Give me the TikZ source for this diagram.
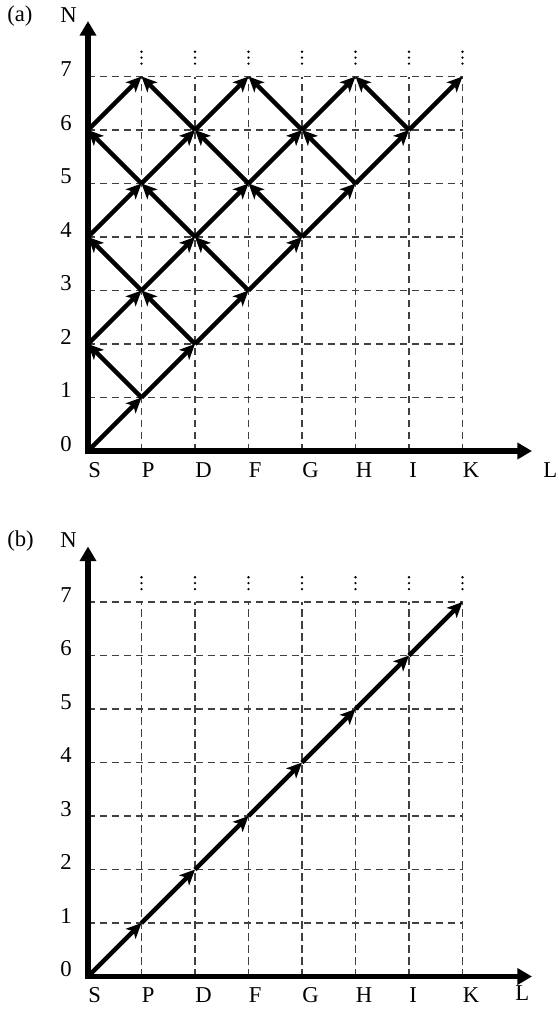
\documentclass[tikz,border=0pt]{standalone}
\usepackage{fontspec}
\setmainfont{Liberation Serif}
\usetikzlibrary{arrows.meta}
\begin{document}
\begin{tikzpicture}[x=0.75pt,y=-0.75pt,
  gridline/.style={black!75, line width=0.8pt, dash pattern=on 5.5pt off 3.5pt},
  axisline/.style={line width=4pt, {Triangle[length=11pt,width=12pt]}-{Triangle[length=11pt,width=12pt]}},
  arr/.style={line width=3.4pt, -{Stealth[length=11.5pt,width=10.5pt,inset=3pt]}},
  lbl/.style={inner sep=0pt}]
\useasboundingbox (0,0) rectangle (559,1011);
\fontsize{17}{20}\selectfont
% lattice coordinates
\foreach \p/\oy in {a/0,b/525.5}{
  \foreach \l in {0,...,7}{
    \foreach \n in {0,...,7}{
      \coordinate (\p\l\n) at ({88+53.5*\l},{451+\oy-53.5*\n});
    }
  }
  \coordinate (\p-ytip) at (88,{21+\oy});
  \coordinate (\p-xtip) at (532,{451+\oy});
}
% grids, dots, axes, labels
\foreach \p/\oy in {a/0,b/525.5}{
  \foreach \k in {1,...,7}{
    \draw[gridline] (\p0\k) -- (\p7\k);
    \draw[gridline] (\p\k0) -- (\p\k7);
    \foreach \d in {24.3,18.4,12.4}
      \fill ({88+53.5*\k},{76+\oy-\d}) circle (1.3);
  }
  \draw[axisline] (\p-ytip) -- (\p00) -- (\p-xtip);
  \foreach \n in {0,...,7}
    \node[lbl, anchor=base east] (\p-y\n) at (72,{451+\oy-53.5*\n}) {\n};
  \foreach \t [count=\i from 0] in {S,P,D,F,G,H,I,K}
    \node[lbl, anchor=base west] (\p-x\t) at ({88+53.5*\i},{477+\oy}) {\t};
  \node[lbl, anchor=base west] (\p-N) at (60,{22+\oy}) {N};
  \node[lbl, anchor=base west] (\p-tag) at (7,{21+\oy}) {(\p)};
}
\node[lbl, anchor=base west] (a-L) at (543,477) {L};
\node[lbl, anchor=base west] (b-L) at (515,1000) {L};
% panel (a) arrows
\foreach \n in {0,...,6}{
  \pgfmathtruncatemacro\jmax{\n/2}
  \foreach \j in {0,...,\jmax}{
    \pgfmathtruncatemacro\l{\n-2*\j}
    \pgfmathtruncatemacro\lp{\l+1}
    \pgfmathtruncatemacro\lm{\l-1}
    \pgfmathtruncatemacro\np{\n+1}
    \draw[arr] (a\l\n) -- (a\lp\np);
    \ifnum\l>0 \draw[arr] (a\l\n) -- (a\lm\np); \fi
  }
}
% panel (b) arrows
\foreach \k in {0,...,6}{
  \pgfmathtruncatemacro\kp{\k+1}
  \draw[arr] (b\k\k) -- (b\kp\kp);
}
\end{tikzpicture}
\end{document}
